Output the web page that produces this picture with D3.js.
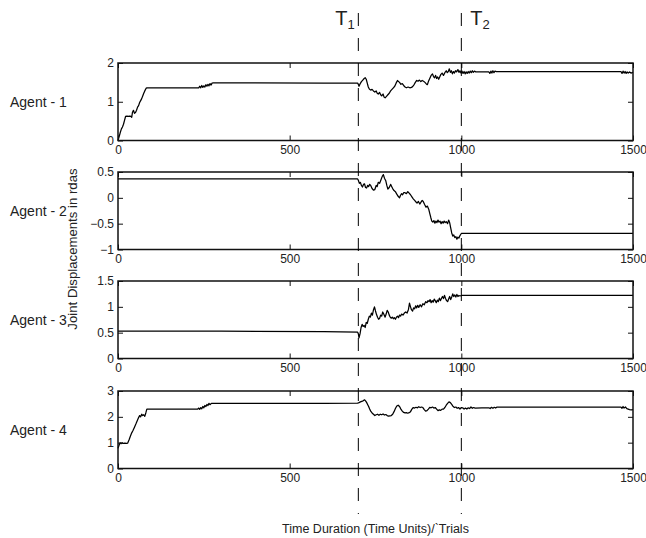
<!DOCTYPE html>
<html>
<head>
<meta charset="utf-8">
<script src="https://cdn.jsdelivr.net/npm/d3@7"></script>
<style>
  html, body { margin: 0; padding: 0; background: #fff; }
  svg { display: block; }
  text { font-family: "Liberation Sans", Arial, Helvetica, sans-serif; fill: #222; }
</style>
</head>
<body>
<svg id="chart" width="646" height="538"></svg>
<script>
// ---- data ----
const agentNames = ["Agent - 1", "Agent - 2", "Agent - 3", "Agent - 4"];
const timeTicks = [0, 500, 1000, 1500];
const yDomains = [[0, 2], [-1, 0.5], [0, 1.5], [0, 3]];
const yTicks = [[0, 1, 2], [-1, -0.5, 0, 0.5], [0, 0.5, 1, 1.5], [0, 1, 2, 3]];
const switchTimes = [700, 1000];
const switchNames = ["1", "2"];

// joint displacement traces, [time, rad]
const agent1 = [[0,0],[4,0.12],[7,0.22],[10,0.3],[13,0.35],[16,0.42],[19,0.52],[22,0.62],[26,0.63],[30,0.62],[34,0.63],[38,0.62],[40,0.6],[42,0.72],[45,0.78],[48,0.7],[51,0.72],[54,0.78],[57,0.86],[60,0.9],[63,0.98],[66,1.03],[69,1.08],[72,1.15],[75,1.22],[78,1.28],[82,1.35],[85,1.36],[150,1.36],[235,1.36],[238,1.4],[241,1.36],[244,1.42],[247,1.37],[250,1.41],[253,1.38],[256,1.44],[259,1.4],[262,1.45],[265,1.41],[268,1.47],[271,1.43],[274,1.48],[278,1.49],[400,1.49],[600,1.48],[698,1.48],
  [700,1.45],[702,1.4],[705,1.46],[709,1.52],[713,1.56],[717,1.6],[720,1.62],[723,1.58],[726,1.48],[729,1.38],[732,1.33],[736,1.3],[740,1.32],[744,1.28],[748,1.25],[752,1.28],[755,1.22],[758,1.2],[762,1.24],[765,1.18],[768,1.15],[772,1.2],[775,1.12],[778,1.1],[782,1.14],[786,1.18],[790,1.22],[794,1.28],[798,1.32],[802,1.36],[806,1.4],[810,1.48],[814,1.55],[817,1.52],[820,1.5],[824,1.45],[828,1.47],[832,1.42],[836,1.38],[840,1.36],[845,1.38],[850,1.36],[855,1.37],[859,1.4],[863,1.45],[866,1.5],[870,1.55],[874,1.53],[878,1.56],[882,1.52],[886,1.55],[890,1.53],[894,1.5],[898,1.46],[901,1.44],[904,1.52],[908,1.6],[912,1.68],[916,1.72],[919,1.65],[922,1.62],[925,1.68],[928,1.6],[931,1.64],[934,1.58],[937,1.64],[940,1.7],[944,1.74],[948,1.68],[952,1.75],[956,1.8],[959,1.75],[962,1.78],[965,1.85],[968,1.76],[971,1.8],[974,1.72],[977,1.78],[980,1.74],[983,1.8],[986,1.77],[990,1.83],[993,1.76],[996,1.8],[999,1.74],[1002,1.79],[1005,1.73],[1008,1.78],[1011,1.72],[1014,1.77],[1017,1.73],[1020,1.78],[1023,1.74],[1026,1.79],[1029,1.75],[1032,1.8],[1035,1.76],[1038,1.79],[1042,1.77],[1050,1.77],[1080,1.77],[1083,1.73],[1086,1.79],[1089,1.74],[1092,1.8],[1095,1.75],[1098,1.79],[1102,1.78],[1300,1.78],[1465,1.78],[1468,1.73],[1471,1.79],[1474,1.74],[1477,1.78],[1480,1.73],[1483,1.77],[1486,1.74],[1490,1.77],[1494,1.74],[1500,1.76]];

const agent2 = [[0,0.365],[300,0.365],[698,0.365],[700,0.34],[703,0.28],[706,0.3],[709,0.24],[712,0.21],[715,0.26],[718,0.27],[721,0.2],[724,0.19],[727,0.24],[730,0.22],[733,0.26],[736,0.24],[740,0.18],[744,0.15],[748,0.16],[752,0.24],[755,0.22],[758,0.3],[762,0.28],[766,0.35],[770,0.42],[773,0.45],[776,0.38],[780,0.33],[783,0.24],[786,0.17],[790,0.2],[794,0.26],[797,0.22],[800,0.18],[804,0.14],[808,0.12],[812,0.07],[816,0.03],[820,0.0],[823,0.05],[826,0.08],[829,0.06],[832,0.1],[836,0.1],[840,0.08],[844,0.12],[848,0.09],[852,0.06],[856,0.02],[860,-0.02],[864,-0.05],[868,-0.08],[871,-0.1],[875,-0.07],[879,-0.12],[883,-0.08],[886,-0.05],[889,-0.07],[893,-0.13],[897,-0.18],[901,-0.16],[905,-0.22],[908,-0.3],[911,-0.38],[914,-0.45],[917,-0.47],[920,-0.44],[923,-0.49],[926,-0.45],[929,-0.48],[932,-0.43],[935,-0.47],[938,-0.45],[941,-0.5],[944,-0.46],[947,-0.49],[950,-0.45],[953,-0.48],[956,-0.46],[960,-0.5],[963,-0.43],[966,-0.48],[969,-0.58],[972,-0.68],[975,-0.74],[978,-0.72],[981,-0.77],[984,-0.75],[987,-0.8],[990,-0.76],[993,-0.78],[996,-0.73],[999,-0.7],[1000,-0.69],[1250,-0.69],[1500,-0.69]];

const agent3 = [[0,0.53],[300,0.53],[600,0.52],[698,0.51],[700,0.48],[702,0.4],[705,0.48],[708,0.6],[711,0.66],[714,0.62],[717,0.64],[720,0.6],[723,0.7],[726,0.68],[729,0.76],[732,0.82],[735,0.8],[738,0.88],[741,0.84],[744,0.94],[747,1.0],[750,0.92],[753,0.85],[756,0.8],[759,0.76],[762,0.78],[765,0.84],[768,0.82],[771,0.9],[774,0.86],[778,0.8],[781,0.86],[784,0.93],[787,0.9],[790,0.84],[793,0.8],[796,0.78],[799,0.8],[802,0.77],[805,0.79],[808,0.76],[811,0.8],[814,0.82],[817,0.79],[820,0.84],[823,0.82],[826,0.86],[830,0.84],[834,0.88],[838,0.9],[842,0.88],[846,0.95],[849,1.07],[852,1.0],[855,0.94],[858,0.92],[861,0.98],[864,0.96],[867,1.02],[870,0.98],[873,1.03],[876,0.99],[880,1.04],[884,1.0],[888,1.06],[892,1.04],[896,1.1],[900,1.08],[903,1.12],[906,1.1],[909,1.14],[912,1.08],[915,1.12],[918,1.09],[921,1.15],[924,1.12],[927,1.08],[930,1.13],[933,1.1],[936,1.17],[939,1.12],[942,1.16],[945,1.2],[948,1.16],[951,1.22],[954,1.16],[957,1.12],[960,1.1],[963,1.15],[966,1.2],[969,1.14],[972,1.19],[975,1.25],[978,1.2],[981,1.23],[984,1.19],[987,1.24],[990,1.2],[993,1.22],[996,1.21],[1000,1.22],[1500,1.22]];

const agent4 = [[0,0.78],[3,0.9],[6,1.0],[9,0.96],[12,1.0],[15,0.97],[20,0.98],[25,0.97],[28,0.98],[32,1.1],[36,1.25],[40,1.38],[44,1.48],[48,1.6],[52,1.72],[56,1.85],[60,1.97],[63,2.05],[66,2.0],[69,2.1],[72,2.05],[75,2.08],[78,2.02],[81,2.15],[84,2.3],[150,2.3],[232,2.3],[235,2.34],[238,2.29],[241,2.36],[244,2.31],[247,2.4],[250,2.35],[253,2.44],[256,2.4],[259,2.48],[262,2.44],[265,2.52],[268,2.47],[272,2.52],[400,2.52],[600,2.52],[698,2.53],[702,2.55],[706,2.58],[710,2.6],[714,2.62],[718,2.66],[721,2.62],[724,2.56],[727,2.48],[730,2.4],[733,2.3],[736,2.22],[740,2.15],[744,2.1],[748,2.05],[752,2.08],[756,2.1],[760,2.06],[764,2.1],[768,2.08],[772,2.11],[776,2.07],[780,2.09],[784,2.05],[788,2.03],[792,2.04],[796,2.05],[800,2.1],[804,2.2],[808,2.32],[812,2.42],[816,2.45],[820,2.4],[824,2.3],[828,2.22],[832,2.17],[836,2.15],[840,2.16],[844,2.14],[848,2.16],[852,2.2],[856,2.3],[860,2.36],[864,2.34],[868,2.37],[872,2.35],[876,2.39],[880,2.36],[884,2.38],[888,2.36],[892,2.28],[896,2.22],[900,2.24],[904,2.3],[908,2.37],[912,2.35],[916,2.38],[920,2.34],[924,2.36],[928,2.3],[932,2.24],[936,2.27],[940,2.25],[944,2.3],[948,2.3],[952,2.36],[956,2.45],[960,2.52],[964,2.58],[968,2.55],[972,2.48],[976,2.4],[980,2.36],[984,2.38],[988,2.33],[992,2.36],[996,2.3],[1000,2.36],[1004,2.35],[1008,2.3],[1012,2.34],[1016,2.3],[1020,2.35],[1024,2.32],[1028,2.38],[1032,2.33],[1036,2.36],[1040,2.34],[1060,2.35],[1080,2.35],[1084,2.32],[1088,2.37],[1092,2.33],[1096,2.37],[1100,2.34],[1104,2.38],[1300,2.38],[1465,2.38],[1468,2.33],[1471,2.4],[1474,2.34],[1478,2.38],[1482,2.32],[1486,2.3],[1490,2.28],[1495,2.27],[1500,2.28]];

const traces = [agent1, agent2, agent3, agent4];

// ---- layout ----
const svg = d3.select("#chart");
const plotLeft = 118, plotRight = 633;
const panelTops = [63, 172, 281, 391];
const panelHeight = 77.5;
const tickLen = 5;

svg.append("rect").attr("width", 646).attr("height", 538).attr("fill", "#fff");

const x = d3.scaleLinear().domain([0, 1500]).range([plotLeft, plotRight]);
const fmt = d3.format("");

traces.forEach((trace, i) => {
  const top = panelTops[i], bottom = top + panelHeight;
  const y = d3.scaleLinear().domain(yDomains[i]).range([bottom, top]);
  const g = svg.append("g");

  // trace
  g.append("path")
    .datum(trace)
    .attr("fill", "none")
    .attr("stroke", "#000")
    .attr("stroke-width", 1.25)
    .attr("stroke-linejoin", "round")
    .attr("d", d3.line().x(d => x(d[0])).y(d => y(d[1])));

  // axes with inward ticks
  const left = g.append("g").attr("transform", `translate(${plotLeft},0)`)
    .call(d3.axisLeft(y).tickValues(yTicks[i]).tickFormat(fmt)
      .tickSizeInner(-tickLen).tickSizeOuter(0).tickPadding(4));
  const right = g.append("g").attr("transform", `translate(${plotRight},0)`)
    .call(d3.axisRight(y).tickValues(yTicks[i]).tickFormat("")
      .tickSizeInner(-tickLen).tickSizeOuter(0));
  const bot = g.append("g").attr("transform", `translate(0,${bottom})`)
    .call(d3.axisBottom(x).tickValues(timeTicks).tickFormat(fmt)
      .tickSizeInner(-tickLen).tickSizeOuter(0).tickPadding(5));
  const topAx = g.append("g").attr("transform", `translate(0,${top})`)
    .call(d3.axisTop(x).tickValues(timeTicks).tickFormat("")
      .tickSizeInner(-tickLen).tickSizeOuter(0));

  [left, right, bot, topAx].forEach(a => {
    a.select(".domain").remove();
    a.selectAll("line").attr("stroke", "#111").attr("stroke-width", 1);
    a.selectAll("text").attr("font-size", 12).attr("fill", "#222")
      .attr("font-family", "Liberation Sans, Arial, Helvetica, sans-serif");
  });

  // frame
  g.append("rect")
    .attr("x", plotLeft).attr("y", top)
    .attr("width", plotRight - plotLeft).attr("height", panelHeight)
    .attr("fill", "none").attr("stroke", "#111").attr("stroke-width", 1.5);

  // agent name
  svg.append("text")
    .attr("x", 10).attr("y", (top + bottom) / 2 + 5)
    .attr("font-size", 14)
    .text(agentNames[i]);
});

// switching instants
switchTimes.forEach((t, k) => {
  svg.append("line")
    .attr("x1", x(t)).attr("x2", x(t))
    .attr("y1", 13).attr("y2", 514)
    .attr("stroke", "#000").attr("stroke-width", 1)
    .attr("stroke-dasharray", "13,12");
  const lbl = svg.append("text")
    .attr("x", k === 0 ? x(t) - 23 : x(t) + 9)
    .attr("y", 25)
    .attr("font-size", 20);
  lbl.append("tspan").text("T");
  lbl.append("tspan").attr("font-size", 13).attr("dy", 4).text(switchNames[k]);
});

// axis titles
svg.append("text")
  .attr("transform", "translate(77,249) rotate(-90)")
  .attr("text-anchor", "middle")
  .attr("font-size", 13.2)
  .text("Joint Displacements in rdas");

svg.append("text")
  .attr("x", (plotLeft + plotRight) / 2)
  .attr("y", 533)
  .attr("text-anchor", "middle")
  .attr("font-size", 12.5)
  .text("Time Duration (Time Units)/`Trials");
</script>
</body>
</html>
